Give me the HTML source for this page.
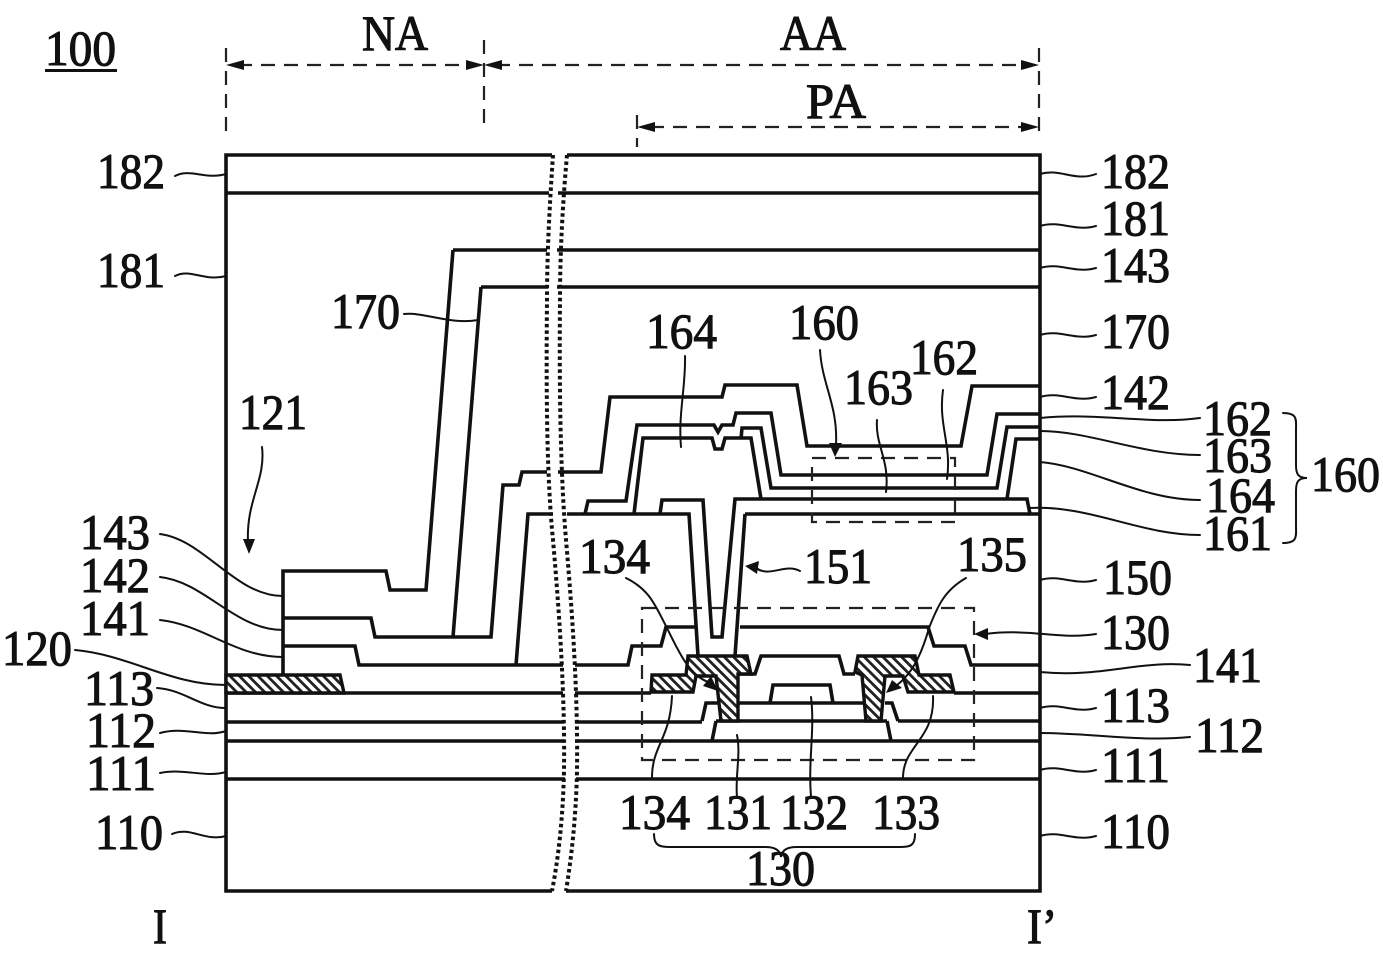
<!DOCTYPE html>
<html><head><meta charset="utf-8"><style>
html,body{margin:0;padding:0;background:#fff}
svg{display:block}
text{font-family:"Liberation Serif",serif;font-size:50px;fill:#111;stroke:#111;stroke-width:1.1px}
.m{fill:none;stroke:#111;stroke-width:3.6;stroke-linejoin:miter}
.t{fill:none;stroke:#111;stroke-width:2;stroke-linecap:round}
.d{fill:none;stroke:#222;stroke-width:2.2;stroke-dasharray:14 9}
.b{fill:none;stroke:#111;stroke-width:4;stroke-dasharray:3.5 3}
.h{fill:url(#hatch);stroke:#111;stroke-width:3.4}
.a{fill:#111;stroke:none}
</style></head><body>
<svg width="1383" height="958" viewBox="0 0 1383 958" xmlns="http://www.w3.org/2000/svg">
<defs><pattern id="hatch" width="6.6" height="6.6" patternUnits="userSpaceOnUse" patternTransform="rotate(-45)"><rect width="6.6" height="6.6" fill="#fff"/><rect width="2.8" height="6.6" fill="#222"/></pattern></defs>
<rect width="1383" height="958" fill="#fff"/>

<!-- main frame -->
<path class="m" d="M552,155H226V891H552M567,155H1040V891H566"/>
<path class="m" d="M226,193H549M558,193H1040"/>
<path class="m" d="M453,250H547M557,250H1040M481,287H548M557,287H1040"/>
<path class="m" d="M226,693H563M575,693H651M226,722H564M575,722H702M226,741H564M575,741H1040M226,779H565M576,779H1040"/>

<!-- left stepped layers -->
<path class="m" d="M283,675V571H386L390,590H426L453,250"/>
<path class="m" d="M283,618H371L375,637H491L503,485H519L522,472H547"/>
<path class="m" d="M453,637L481,287"/>
<path class="m" d="M283,646H355L359,665H563"/>
<path class="m" d="M516,665L528,514H553"/>
<path class="h" d="M226,675H340L344,693H226Z"/>

<!-- right upper layers -->
<path class="m" d="M558,472H601L610,397H722L725,385H797L807,446H961L972,386H1040"/>
<path class="m" d="M585,514L588,501H626L637,425H714L718,432L722,425H733L736,413H771L781,475H987L997,414H1040"/>
<path class="m" d="M634,514L643,438H712L715,449H722L725,438H751L761,499"/>
<path class="m" d="M741,439L742,428H761L771,488H997L1007,427H1040"/>
<path class="m" d="M567,514H689L698,656"/>
<path class="m" d="M660,514L662,500H703L712,637H722L735,499H1027L1030,514H1040"/>
<path class="m" d="M1007,499L1016,439H1040"/>
<path class="m" d="M745,514H1030M745,514L735,656"/>

<!-- TFT layers -->
<path class="m" d="M575,665H628L632,646H661L666,627H695M740,627H928L934,646H965L971,665H1040"/>
<path class="m" d="M738,674H755L761,656H839L844,674H855"/>
<path class="m" d="M954,693H1040M898,721H1040M716,721H887"/>
<path class="m" d="M738,703H866M770,703L773,685H830L833,703"/>
<path class="m" d="M702,721L706,703H720M885,703H892L898,721"/>
<path class="m" d="M712,741L716,721M887,721L891,741"/>
<path class="h" d="M688,656H747L751,674H738V721H721L716,676H696L693,692H651L652,675H686Z"/>
<path class="h" d="M855,672L858,656H915L919,675H950L954,692H908L903,676H885L881,721H866L862,675Z"/>

<!-- break lines -->
<path class="b" d="M553,155C550,200 547,250 547,300C546,400 547,480 553,540C560,620 565,700 564,770C563,820 558,860 552,891"/>
<path class="b" d="M567,155C563,200 560,250 560,300C559,400 561,480 566,540C573,620 578,700 577,770C576,820 571,860 566,891"/>

<!-- dashed boxes and dimensions -->
<path class="d" d="M812,458H955V522H812Z"/>
<path class="d" d="M642,608H974V760H642Z"/>
<path class="d" d="M226,48V138M484,40V128M1039,48V138M637,115V147"/>
<path class="d" d="M238,65H472M496,65H1027M650,127H1027"/>
<path class="a" d="M226,65L244,60V70ZM484,65L466,60V70ZM484,65L502,60V70ZM1039,65L1021,60V70ZM637,127L655,122V132ZM1039,127L1021,122V132Z"/>

<!-- leaders -->
<path class="t" d="M175,176C190,168 205,180 226,174M175,276C190,268 205,282 226,276M172,834C190,826 205,842 226,836
M404,314C425,312 450,325 478,320
M160,534C205,540 235,596 283,596M160,577C205,582 235,630 283,630M160,620C205,625 235,657 283,657
M75,650C130,655 170,685 226,685M157,688C185,690 200,708 226,708M160,733C185,726 205,738 226,731M160,773C185,768 205,778 226,772"/>
<path class="t" d="M262,447C266,480 246,500 248,542"/>
<path class="a" d="M249,554L243,539H255Z"/>
<path class="t" d="M1040,174C1060,168 1075,182 1096,174M1040,226C1060,220 1075,232 1096,226M1040,268C1060,262 1075,274 1096,268M1040,335C1060,329 1075,341 1096,335M1040,397C1060,391 1075,403 1096,397M1040,418C1100,412 1150,425 1200,418M1040,431C1090,431 1140,455 1200,455M1040,462C1090,466 1140,500 1200,500M1030,508C1090,505 1140,535 1200,535M1040,580C1060,574 1075,586 1096,580M1040,672C1100,678 1140,660 1190,665M1040,708C1060,702 1075,714 1096,708M1040,733C1090,733 1140,742 1190,737M1040,770C1060,764 1075,776 1096,770M1040,836C1060,830 1075,842 1096,836"/>
<path class="t" d="M985,634C1030,628 1060,640 1096,634"/>
<path class="a" d="M974,634L988,628V640Z"/>

<!-- internal leaders -->
<path class="t" d="M685,356C686,385 678,415 681,447M820,350C822,385 838,405 836,445M877,420C875,445 890,460 886,492M943,390C938,425 952,445 947,479"/>
<path class="a" d="M835,457L829,443H842Z"/>
<path class="t" d="M800,571C785,563 770,578 756,568"/>
<path class="a" d="M745,566L759,561L757,574Z"/>
<path class="t" d="M626,578C650,590 655,605 667,628C680,655 690,675 708,682"/>
<path class="a" d="M718,691L703,686L711,676Z"/>
<path class="t" d="M966,578C945,590 938,605 929,628C920,660 910,675 896,686"/>
<path class="a" d="M886,693L892,680L902,688Z"/>
<path class="t" d="M672,696C670,740 652,745 652,778M737,735C741,755 735,775 737,798M811,697C815,730 808,760 811,797M933,696C935,740 903,745 903,778"/>

<!-- braces -->
<path class="t" d="M1283,413C1298,413 1296,420 1296,430V465C1296,474 1298,478 1307,478C1298,478 1296,482 1296,491V526C1296,536 1298,543 1283,543"/>
<path class="t" d="M654,834C654,846 660,847 670,847H765C775,847 780,850 781,857C782,850 787,847 797,847H900C910,847 915,846 915,834"/>

<!-- labels -->
<text x="45" y="65" textLength="71" lengthAdjust="spacingAndGlyphs">100</text>
<rect x="45" y="69" width="72" height="3" fill="#111"/>
<text x="362" y="50" textLength="66" lengthAdjust="spacingAndGlyphs">NA</text>
<text x="780" y="50" textLength="66" lengthAdjust="spacingAndGlyphs">AA</text>
<text x="806" y="118" textLength="60" lengthAdjust="spacingAndGlyphs">PA</text>
<text x="97" y="188" textLength="68" lengthAdjust="spacingAndGlyphs">182</text>
<text x="97" y="287" textLength="68" lengthAdjust="spacingAndGlyphs">181</text>
<text x="331" y="328" textLength="69" lengthAdjust="spacingAndGlyphs">170</text>
<text x="239" y="429" textLength="68" lengthAdjust="spacingAndGlyphs">121</text>
<text x="80" y="549" textLength="70" lengthAdjust="spacingAndGlyphs">143</text>
<text x="80" y="592" textLength="70" lengthAdjust="spacingAndGlyphs">142</text>
<text x="80" y="635" textLength="70" lengthAdjust="spacingAndGlyphs">141</text>
<text x="2" y="665" textLength="70" lengthAdjust="spacingAndGlyphs">120</text>
<text x="84" y="705" textLength="70" lengthAdjust="spacingAndGlyphs">113</text>
<text x="86" y="747" textLength="70" lengthAdjust="spacingAndGlyphs">112</text>
<text x="86" y="790" textLength="70" lengthAdjust="spacingAndGlyphs">111</text>
<text x="95" y="849" textLength="68" lengthAdjust="spacingAndGlyphs">110</text>
<text x="153" y="943" textLength="14" lengthAdjust="spacingAndGlyphs">I</text>
<text x="1027" y="943" textLength="30" lengthAdjust="spacingAndGlyphs">I’</text>
<text x="1101" y="188" textLength="69" lengthAdjust="spacingAndGlyphs">182</text>
<text x="1101" y="235" textLength="69" lengthAdjust="spacingAndGlyphs">181</text>
<text x="1101" y="282" textLength="69" lengthAdjust="spacingAndGlyphs">143</text>
<text x="1101" y="348" textLength="69" lengthAdjust="spacingAndGlyphs">170</text>
<text x="1101" y="409" textLength="69" lengthAdjust="spacingAndGlyphs">142</text>
<text x="1203" y="435" textLength="69" lengthAdjust="spacingAndGlyphs">162</text>
<text x="1203" y="472" textLength="69" lengthAdjust="spacingAndGlyphs">163</text>
<text x="1206" y="512" textLength="69" lengthAdjust="spacingAndGlyphs">164</text>
<text x="1203" y="550" textLength="69" lengthAdjust="spacingAndGlyphs">161</text>
<text x="1311" y="491" textLength="69" lengthAdjust="spacingAndGlyphs">160</text>
<text x="1103" y="594" textLength="69" lengthAdjust="spacingAndGlyphs">150</text>
<text x="1101" y="649" textLength="69" lengthAdjust="spacingAndGlyphs">130</text>
<text x="1193" y="682" textLength="69" lengthAdjust="spacingAndGlyphs">141</text>
<text x="1101" y="722" textLength="69" lengthAdjust="spacingAndGlyphs">113</text>
<text x="1195" y="752" textLength="69" lengthAdjust="spacingAndGlyphs">112</text>
<text x="1101" y="782" textLength="69" lengthAdjust="spacingAndGlyphs">111</text>
<text x="1101" y="848" textLength="69" lengthAdjust="spacingAndGlyphs">110</text>
<text x="646" y="348" textLength="71" lengthAdjust="spacingAndGlyphs">164</text>
<text x="789" y="339" textLength="70" lengthAdjust="spacingAndGlyphs">160</text>
<text x="910" y="374" textLength="68" lengthAdjust="spacingAndGlyphs">162</text>
<text x="844" y="404" textLength="69" lengthAdjust="spacingAndGlyphs">163</text>
<text x="804" y="583" textLength="68" lengthAdjust="spacingAndGlyphs">151</text>
<text x="579" y="573" textLength="71" lengthAdjust="spacingAndGlyphs">134</text>
<text x="957" y="571" textLength="70" lengthAdjust="spacingAndGlyphs">135</text>
<text x="619" y="829" textLength="71" lengthAdjust="spacingAndGlyphs">134</text>
<text x="704" y="829" textLength="68" lengthAdjust="spacingAndGlyphs">131</text>
<text x="780" y="829" textLength="68" lengthAdjust="spacingAndGlyphs">132</text>
<text x="872" y="829" textLength="68" lengthAdjust="spacingAndGlyphs">133</text>
<text x="746" y="885" textLength="69" lengthAdjust="spacingAndGlyphs">130</text>
</svg>
</body></html>
